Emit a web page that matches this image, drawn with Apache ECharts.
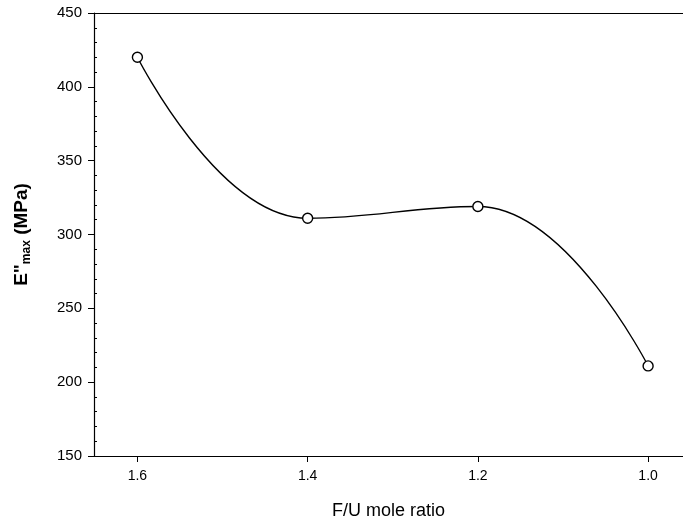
<!DOCTYPE html>
<html>
<head>
<meta charset="utf-8">
<script src="https://cdn.jsdelivr.net/npm/echarts@6/dist/echarts.min.js"></script>
<style>
  html, body { margin: 0; padding: 0; background: #fff; }
  #chart { width: 683px; height: 529px; }
</style>
</head>
<body>
<div id="chart"></div>
<script>
// F/U mole ratio vs E''max
const ratios = [1.6, 1.4, 1.2, 1.0]
const eMax = [420, 311, 319, 211]
const xTicks = [1.6, 1.4, 1.2, 1.0]

const font = 'Liberation Sans, Arial, sans-serif'
const chart = echarts.init(document.getElementById('chart'))

chart.setOption({
  animation: false,
  grid: { left: 94, right: 0, top: 13, bottom: 73 },
  xAxis: [{
    type: 'value',
    inverse: true,
    min: 0.959,
    max: 1.651,
    name: 'F/U mole ratio',
    nameLocation: 'middle',
    nameGap: 46,
    nameTextStyle: { color: '#000', fontSize: 18, fontFamily: font },
    axisLine: { lineStyle: { color: '#000', width: 1.2 } },
    axisTick: { customValues: xTicks, length: 6, lineStyle: { color: '#000' } },
    axisLabel: {
      customValues: xTicks,
      formatter: v => v.toFixed(1),
      color: '#000', fontSize: 14, fontFamily: font, margin: 13
    },
    splitLine: { show: false }
  }, {
    // top frame line
    type: 'value',
    position: 'top',
    inverse: true,
    min: 0.959,
    max: 1.651,
    axisLine: { lineStyle: { color: '#000', width: 1.2 } },
    axisTick: { show: false },
    axisLabel: { show: false },
    splitLine: { show: false }
  }],
  yAxis: {
    type: 'value',
    min: 150,
    max: 450,
    interval: 50,
    name: '{b|E"}{s|max}{b| (MPa)}',
    nameLocation: 'middle',
    nameGap: 61,
    nameTextStyle: {
      rich: {
        b: { fontSize: 19, fontWeight: 'bold', fontFamily: font, color: '#000' },
        s: { fontSize: 12, fontWeight: 'bold', fontFamily: font, color: '#000', verticalAlign: 'bottom', padding: [11, 0, 0, 0] }
      }
    },
    axisLine: { show: true, lineStyle: { color: '#000', width: 1.2 } },
    axisTick: { length: 6, lineStyle: { color: '#000' } },
    minorTick: { show: true, splitNumber: 5, length: -3, lineStyle: { color: '#000' } },
    axisLabel: { color: '#000', fontSize: 15, fontFamily: font, margin: 12 },
    splitLine: { show: false }
  },
  series: [{
    type: 'line',
    data: ratios.map((r, i) => [r, eMax[i]]),
    smooth: 0.45,
    symbol: 'circle',
    symbolSize: 10,
    lineStyle: { color: '#000', width: 1.4 },
    itemStyle: { color: '#fff', borderColor: '#000', borderWidth: 1.4 }
  }]
})
</script>
</body>
</html>
